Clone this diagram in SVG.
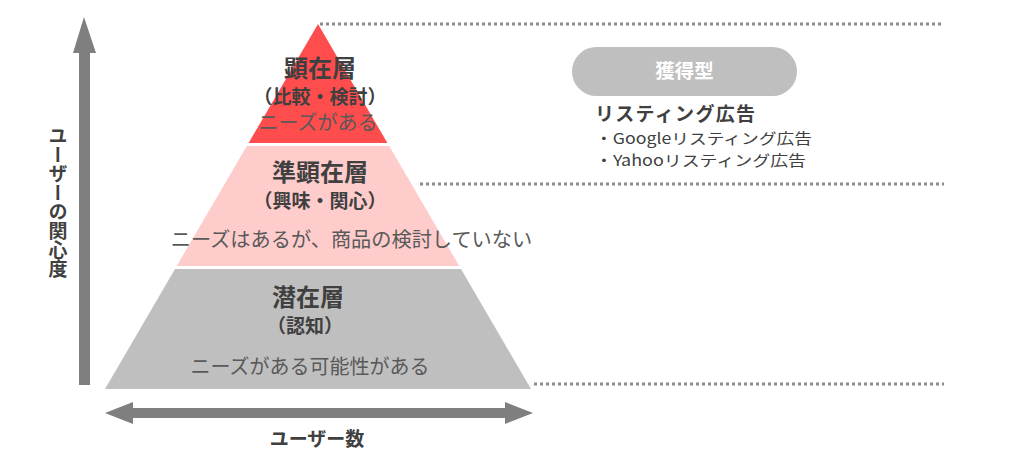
<svg xmlns="http://www.w3.org/2000/svg" width="1024" height="461" viewBox="0 0 1024 461">
<style>
text{font-family:"Noto Sans CJK JP","Noto Sans",sans-serif;fill:#404040}
.b{font-weight:bold}
.n{fill:#595959}
.dot{stroke:#8c8c8c;stroke-width:3;stroke-dasharray:3 3;fill:none}
.ax{fill:#7f7f7f}
</style>
<rect width="1024" height="461" fill="#fff"/>
<g id="connectors">
<line class="dot" x1="320" y1="24" x2="944" y2="24"/>
<line class="dot" x1="420" y1="184" x2="944" y2="184"/>
<line class="dot" x1="534" y1="384" x2="944" y2="384"/>
</g>
<g id="axis-y">
<polygon class="ax" points="84,17 96,53 90,53 90,385 79,385 79,53 73,53"/>
<text class="b" x="58" y="202" font-size="19" text-anchor="middle" style="writing-mode:vertical-rl">ユーザーの関心度</text>
</g>
<g id="axis-x">
<polygon class="ax" points="105,413 133,402 133,408 505,408 505,402 533,413 505,424 505,418 133,418 133,424"/>
<text class="b" x="317" y="446" font-size="19" text-anchor="middle">ユーザー数</text>
</g>
<g id="layer-top">
<polygon points="318,24 387.4,143 248.6,143" fill="#ff4d4d"/>
<text class="b" x="320" y="77" font-size="24" text-anchor="middle">顕在層</text>
<text class="b" x="320" y="104" font-size="19" text-anchor="middle">（比較・検討）</text>
<text class="n" x="318" y="130" font-size="20" text-anchor="middle">ニーズがある</text>
</g>
<g id="layer-mid">
<polygon points="246.8,146 389.2,146 459.3,266 176.7,266" fill="#ffcccc"/>
<text class="b" x="320" y="181" font-size="24" text-anchor="middle">準顕在層</text>
<text class="b" x="320" y="208" font-size="19" text-anchor="middle">（興味・関心）</text>
<text class="n" x="351.5" y="247" font-size="20.2" text-anchor="middle">ニーズはあるが、商品の検討していない</text>
</g>
<g id="layer-bottom">
<polygon points="175,269 461,269 531,389 105,389" fill="#bfbfbf"/>
<text class="b" x="308" y="306" font-size="24" text-anchor="middle">潜在層</text>
<text class="b" x="305" y="333" font-size="19" text-anchor="middle">（認知）</text>
<text class="n" x="310" y="374" font-size="20" text-anchor="middle">ニーズがある可能性がある</text>
</g>
<g id="acquisition">
<rect x="572" y="47" width="225" height="49" rx="24.5" fill="#bfbfbf"/>
<text class="b" x="684.5" y="78" font-size="19.5" text-anchor="middle" style="fill:#fff">獲得型</text>
<text class="b" x="595" y="121" font-size="19" textLength="160">リスティング広告</text>
<text x="595" y="144" font-size="15" textLength="217" lengthAdjust="spacingAndGlyphs">・Googleリスティング広告</text>
<text x="595" y="166" font-size="15" textLength="211" lengthAdjust="spacingAndGlyphs">・Yahooリスティング広告</text>
</g>
</svg>
